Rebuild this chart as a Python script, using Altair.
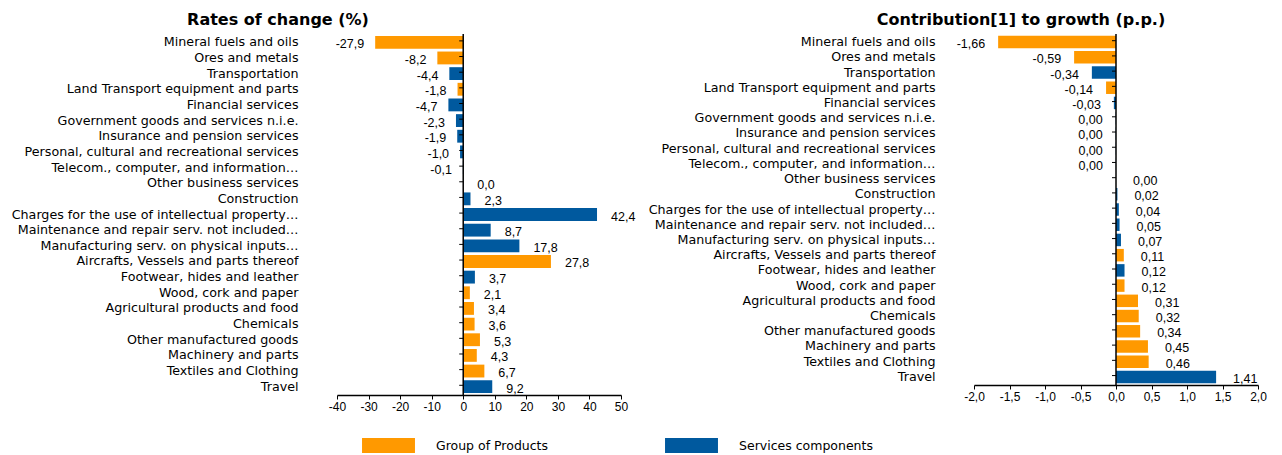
import altair as alt
import pandas as pd

categories = [
    "Mineral fuels and oils",
    "Ores and metals",
    "Transportation",
    "Land Transport equipment and parts",
    "Financial services",
    "Government goods and services n.i.e.",
    "Insurance and pension services",
    "Personal, cultural and recreational services",
    "Telecom., computer, and information\u2026",
    "Other business services",
    "Construction",
    "Charges for the use of intellectual property\u2026",
    "Maintenance and repair serv. not included\u2026",
    "Manufacturing serv. on physical inputs\u2026",
    "Aircrafts, Vessels and parts thereof",
    "Footwear, hides and leather",
    "Wood, cork and paper",
    "Agricultural products and food",
    "Chemicals",
    "Other manufactured goods",
    "Machinery and parts",
    "Textiles and Clothing",
    "Travel",
]

P = "Group of Products"
S = "Services components"
groups = [P, P, S, P, S, S, S, S, S, S, S, S, S, S, P, S, P, P, P, P, P, P, S]

rates = [-27.9, -8.2, -4.4, -1.8, -4.7, -2.3, -1.9, -1.0, -0.1, 0.0, 2.3, 42.4,
         8.7, 17.8, 27.8, 3.7, 2.1, 3.4, 3.6, 5.3, 4.3, 6.7, 9.2]

contributions = [-1.66, -0.59, -0.34, -0.14, -0.03, -0.004, -0.004, -0.003, -0.002,
                 0.0, 0.02, 0.04, 0.05, 0.07, 0.11, 0.12, 0.12, 0.31, 0.32, 0.34,
                 0.45, 0.46, 1.41]

rate_ticks = [-40, -30, -20, -10, 0, 10, 20, 30, 40, 50]
contrib_ticks = [-2.0, -1.5, -1.0, -0.5, 0.0, 0.5, 1.0, 1.5, 2.0]

ORANGE = "#FF9900"
BLUE = "#00599E"


def fmt(v, nd):
    s = f"{v:.{nd}f}"
    if float(s) == 0:
        s = s.lstrip("-")
    return s.replace(".", ",")


df = pd.DataFrame({
    "cat": categories,
    "group": groups,
    "rate": rates,
    "contrib": contributions,
})
df["rate_lbl"] = [fmt(v, 1) for v in rates]
df["contrib_lbl"] = [fmt(v, 2) for v in contributions]

legend = alt.Legend(
    title=None,
    orient="none",
    legendX=44,
    legendY=404,
    direction="horizontal",
    symbolType="M-3.53,-1H3.53V1H-3.53Z",
    symbolSize=225,
    symbolStrokeWidth=0,
    labelFont="DejaVu Sans",
    labelFontSize=12.5,
    labelColor="black",
    labelOffset=40,
    columnPadding=116,
    labelLimit=300,
)

color = alt.Color(
    "group:N",
    scale=alt.Scale(domain=[P, S], range=[ORANGE, BLUE]),
    legend=legend,
)


def panel(field, lbl, domain, ticks, label_expr, title, title_dx, height,
          extent, label_pad, neg_dx, pos_dx, width=284):
    step = height / (len(categories) - 0.18 + 2 * 0.12)
    y = alt.Y(
        "cat:N",
        sort=categories,
        title=None,
        scale=alt.Scale(paddingInner=0.18, paddingOuter=0.12),
        axis=alt.Axis(
            domain=False,
            ticks=False,
            labelPadding=label_pad,
            minExtent=extent,
            maxExtent=extent,
            labelFont="DejaVu Sans",
            labelFontSize=12.7,
            labelColor="black",
            labelLimit=400,
        ),
    )
    x = alt.X(
        f"{field}:Q",
        title=None,
        scale=alt.Scale(domain=domain, nice=False, zero=False),
        axis=alt.Axis(
            values=ticks,
            labelExpr=label_expr,
            labelOverlap=False,
            labelFlush=False,
            grid=False,
            domainColor="black",
            domainWidth=1.5,
            tickColor="black",
            tickSize=4,
            tickWidth=1,
            labelFont="Liberation Sans",
            labelFontSize=12,
            labelColor="black",
            labelPadding=2,
        ),
    )
    x2 = alt.X2(f"{field}:Q")
    base = alt.Chart(df)
    zero_rows = pd.DataFrame({"cat": categories, field: [0] * len(categories)})
    bars = base.mark_bar().encode(x=x, y=y, color=color)
    neg = base.transform_filter(f"datum.{field} < 0").mark_text(
        align="right", baseline="middle", dx=neg_dx, dy=2,
        font="Liberation Sans", fontSize=12.5, color="black",
    ).encode(x=x, y=y, text=f"{lbl}:N")
    pos = base.transform_filter(f"datum.{field} >= 0").mark_text(
        align="left", baseline="middle", dx=pos_dx, dy=2,
        font="Liberation Sans", fontSize=12.5, color="black",
    ).encode(x=x, y=y, text=f"{lbl}:N")
    zero = alt.Chart(zero_rows.head(1)).mark_rule(color="black", strokeWidth=1.5).encode(
        x=x
    )
    cat_ticks = alt.Chart(zero_rows).mark_rule(
        color="black", strokeWidth=1, xOffset=-4, yOffset=-step * 0.09
    ).encode(x=x, x2=x2, y=y)
    return alt.layer(bars, zero, cat_ticks, neg, pos).properties(
        width=width,
        height=height,
        title=alt.TitleParams(
            title,
            font="DejaVu Sans",
            fontSize=16,
            fontWeight="bold",
            color="black",
            anchor="middle",
            frame="group",
            dx=title_dx,
            offset=5,
        ),
    )


left = panel(
    "rate", "rate_lbl", [-40, 50], rate_ticks,
    "(datum.value < 0 ? '-' : '') + format(abs(datum.value), 'd')",
    "Rates of change (%)", -201, 361, 329, 39, -11, 14,
)
right = panel(
    "contrib", "contrib_lbl", [-2, 2], contrib_ticks,
    "(datum.value < 0 ? '-' : '') + replace(format(abs(datum.value), '.1f'), '.', ',')",
    "Contribution[1] to growth (p.p.)", -95, 351, 329, 39, -13, 17,
)

chart = alt.hconcat(left, right, spacing=353, bounds="flush").properties(
    padding={"top": 4, "left": 0, "right": 0, "bottom": 0}
).configure_view(stroke=None)

chart.save("out.html", embed_options={"renderer": "svg", "actions": False})
